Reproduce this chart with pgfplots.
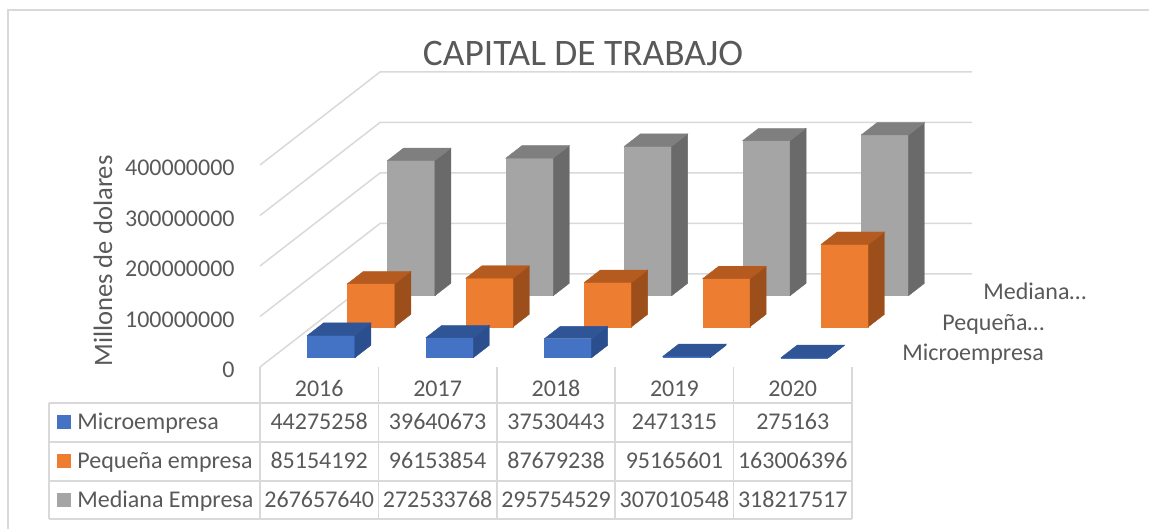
\documentclass[border=0pt]{standalone}
\usepackage{pgfplots}
\pgfplotsset{compat=1.18}
\usepackage{fontspec}
\setmainfont{Carlito}
\definecolor{txt}{HTML}{595959}
\definecolor{grd}{HTML}{D9D9D9}
\definecolor{bF}{HTML}{4472C4}\definecolor{bT}{HTML}{2F5597}\definecolor{bS}{HTML}{2B4E8E}
\definecolor{oF}{HTML}{ED7D31}\definecolor{oT}{HTML}{B65B20}\definecolor{oS}{HTML}{9C4E1B}
\definecolor{gF}{HTML}{A5A5A5}\definecolor{gT}{HTML}{7F7F7F}\definecolor{gS}{HTML}{6A6A6A}
% #1 x left, #2 x right, #3 depth front, #4 depth back, #5 value (millions), #6 colour prefix
\newcommand{\cuboid}[6]{%
 \addplot3[fill=#6F, draw=#6F, line width=0.2pt] coordinates {(#1,#3,0) (#2,#3,0) (#2,#3,#5) (#1,#3,#5)} -- cycle;
 \addplot3[fill=#6S, draw=#6S, line width=0.2pt] coordinates {(#2,#3,0) (#2,#4,0) (#2,#4,#5) (#2,#3,#5)} -- cycle;
 \addplot3[fill=#6T, draw=#6T, line width=0.2pt] coordinates {(#1,#3,#5) (#2,#3,#5) (#2,#4,#5) (#1,#4,#5)} -- cycle;
}
\begin{document}
\begin{tikzpicture}[x=0.5pt,y=0.5pt]
\useasboundingbox (-260,-162) rectangle (889,367);
\draw[grd, line width=0.75pt] (-252,-162) -- (-252,357) -- (889,357);
\begin{axis}[anchor=origin, at={(0,0)},
  x={(59.2pt,0pt)}, y={(60pt,46.5pt)}, z={(0pt,0.2525pt)},
  xmin=0, xmax=5, ymin=0, ymax=1, zmin=0, zmax=400,
  hide axis, clip=false]
\pgfplotsinvokeforeach{0,100,200,300,400}{
  \draw[grd, line width=0.75pt] (axis cs:0,0,#1) -- (axis cs:0,1,#1) -- (axis cs:5,1,#1);
}
% Mediana Empresa (back row)
\cuboid{0.3}{0.7}{0.7667}{0.9}{267.657640}{g}
\cuboid{1.3}{1.7}{0.7667}{0.9}{272.533768}{g}
\cuboid{2.3}{2.7}{0.7667}{0.9}{295.754529}{g}
\cuboid{3.3}{3.7}{0.7667}{0.9}{307.010548}{g}
\cuboid{4.3}{4.7}{0.7667}{0.9}{318.217517}{g}
% Pequena empresa (middle row)
\cuboid{0.3}{0.7}{0.4333}{0.5667}{85.154192}{o}
\cuboid{1.3}{1.7}{0.4333}{0.5667}{96.153854}{o}
\cuboid{2.3}{2.7}{0.4333}{0.5667}{87.679238}{o}
\cuboid{3.3}{3.7}{0.4333}{0.5667}{95.165601}{o}
\cuboid{4.3}{4.7}{0.4333}{0.5667}{163.006396}{o}
% Microempresa (front row)
\cuboid{0.3}{0.7}{0.1}{0.2333}{44.275258}{b}
\cuboid{1.3}{1.7}{0.1}{0.2333}{39.640673}{b}
\cuboid{2.3}{2.7}{0.1}{0.2333}{37.530443}{b}
\cuboid{3.3}{3.7}{0.1}{0.2333}{2.471315}{b}
\cuboid{4.3}{4.7}{0.1}{0.2333}{0.275163}{b}
\end{axis}
% title and axis title
\node[txt, font=\fontsize{18.7pt}{22pt}\selectfont] at (323,313) {CAPITAL DE TRABAJO};
\node[txt, font=\fontsize{13.3pt}{16pt}\selectfont, rotate=90] at (-157,106) {Millones de dolares};
% value tick labels
\begin{scope}[every node/.style={txt, font=\fontsize{12pt}{14pt}\selectfont, anchor=mid east, inner sep=0pt}]
\node at (-25,196) {400000000};
\node at (-25,145.5) {300000000};
\node at (-25,95) {200000000};
\node at (-25,44.5) {100000000};
\node at (-25,-6) {0};
\end{scope}
% depth labels
\begin{scope}[every node/.style={txt, font=\fontsize{12pt}{14pt}\selectfont, anchor=mid west, inner sep=0pt}]
\node at (642,11) {Microempresa};
\node at (682,41) {Pequeña…};
\node at (723,72) {Mediana…};
\end{scope}
% data table
\begin{scope}[grd, line width=0.75pt]
\foreach \xx in {0,118.4,236.8,355.2,473.6,592} \draw (\xx,0) -- (\xx,-152);
\draw (-211,-36) -- (-211,-152);
\foreach \yy in {-36,-75,-114,-152} \draw (-211,\yy) -- (592,\yy);
\end{scope}
\fill[bF] (-203,-62.5) rectangle (-189,-48.5);
\fill[oF] (-203,-101.5) rectangle (-189,-87.5);
\fill[gF] (-203,-140) rectangle (-189,-126);
\begin{scope}[every node/.style={txt, font=\fontsize{12pt}{14pt}\selectfont, anchor=mid, inner sep=0pt}]
\node at (59.2,-25) {2016};
\node at (177.6,-25) {2017};
\node at (296,-25) {2018};
\node at (414.4,-25) {2019};
\node at (532.8,-25) {2020};
\node[anchor=mid west] at (-183,-58) {Microempresa};
\node[anchor=mid west] at (-183,-97) {Pequeña empresa};
\node[anchor=mid west] at (-183,-135.5) {Mediana Empresa};
\node at (59.2,-58) {44275258};
\node at (177.6,-58) {39640673};
\node at (296,-58) {37530443};
\node at (414.4,-58) {2471315};
\node at (532.8,-58) {275163};
\node at (59.2,-97) {85154192};
\node at (177.6,-97) {96153854};
\node at (296,-97) {87679238};
\node at (414.4,-97) {95165601};
\node at (532.8,-97) {163006396};
\node at (59.2,-135.5) {267657640};
\node at (177.6,-135.5) {272533768};
\node at (296,-135.5) {295754529};
\node at (414.4,-135.5) {307010548};
\node at (532.8,-135.5) {318217517};
\end{scope}
\end{tikzpicture}
\end{document}
